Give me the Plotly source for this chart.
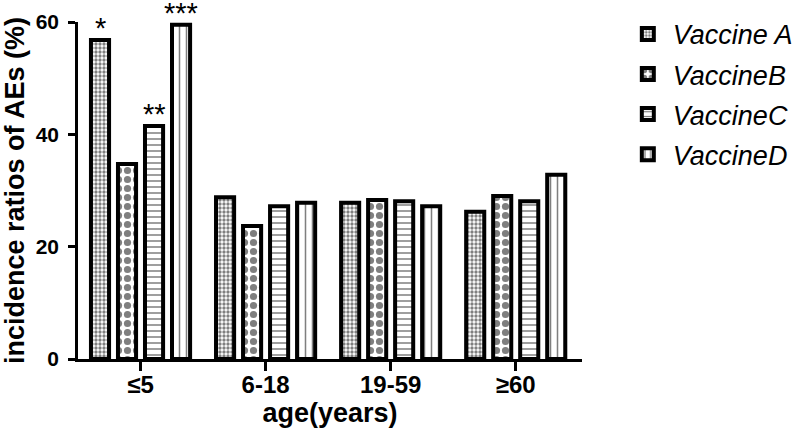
import plotly.graph_objects as go

categories = ["≤5", "6-18", "19-59", "≥60"]
series_names = ["Vaccine A", "VaccineB", "VaccineC", "VaccineD"]
vaccine_a = [56.8, 28.8, 27.8, 26.2]
vaccine_b = [34.7, 23.7, 28.3, 29.0]
vaccine_c = [41.5, 27.2, 28.1, 28.1]
vaccine_d = [59.5, 27.8, 27.2, 32.8]
y_ticks = [0, 20, 40, 60]
# significance marks: (series index, category index, label)
sig_marks = [(0, 0, "*"), (2, 0, "**"), (3, 0, "***")]

series_values = [vaccine_a, vaccine_b, vaccine_c, vaccine_d]
patterns = [
    dict(shape=".", size=4, solidity=0.55, fgcolor="black", bgcolor="white"),
    dict(shape=".", size=9, solidity=0.5, fgcolor="black", bgcolor="white"),
    dict(shape="-", size=6, solidity=0.25, fgcolor="black", bgcolor="white"),
    dict(shape="|", size=7, solidity=0.22, fgcolor="black", bgcolor="white"),
]

FONT = "Liberation Sans, Arial, sans-serif"

fig = go.Figure()
for i, (name, vals) in enumerate(zip(series_names, series_values)):
    fig.add_trace(go.Bar(
        x=categories, y=vals, name=name, legendgroup=name,
        marker=dict(color="white", line=dict(color="black", width=4),
                    pattern=patterns[i]),
    ))

slot_px = 27
for si, ci, label in sig_marks:
    fig.add_annotation(
        x=categories[ci], y=series_values[si][ci], text=label,
        showarrow=False, yanchor="bottom", xshift=(si - 1.5) * slot_px, yshift=-6,
        font=dict(family=FONT, size=29, color="black"),
    )

fig.update_layout(
    width=800, height=440,
    margin=dict(l=78, r=218, t=22, b=81, autoexpand=False),
    paper_bgcolor="white", plot_bgcolor="white",
    barmode="group", bargap=0.136, bargroupgap=0.33,
    font=dict(family=FONT, color="black"),
    showlegend=True,
    legend=dict(
        x=1.081, y=1.036, xanchor="left", yanchor="top",
        font=dict(family=FONT, size=27, color="black", style="italic"),
        traceorder="grouped", tracegroupgap=2,
        itemwidth=40,
    ),
    xaxis=dict(
        range=[-0.5, 3.53], showline=True, linecolor="black", linewidth=2.5,
        ticks="outside", ticklen=9, tickwidth=2.5, tickcolor="black",
        tickfont=dict(family=FONT, size=24, weight="bold"),
        ticklabelstandoff=-7,
        title=dict(text="age(years)", font=dict(family=FONT, size=27, weight="bold"),
                   standoff=3),
        showgrid=False, zeroline=False, automargin=False,
    ),
    yaxis=dict(
        range=[0, 60], tickvals=y_ticks, showline=True, linecolor="black",
        linewidth=2.5, ticks="outside", ticklen=7, tickwidth=2.5, tickcolor="black",
        tickfont=dict(family=FONT, size=21, weight="bold"),
        ticklabelstandoff=5,
        title=dict(text="incidence ratios of AEs (%)",
                   font=dict(family=FONT, size=27, weight="bold"), standoff=13),
        showgrid=False, zeroline=False, automargin=False,
    ),
)

fig.write_html("out.html", config={"displayModeBar": False},
               post_script="document.body.style.margin='0';")
